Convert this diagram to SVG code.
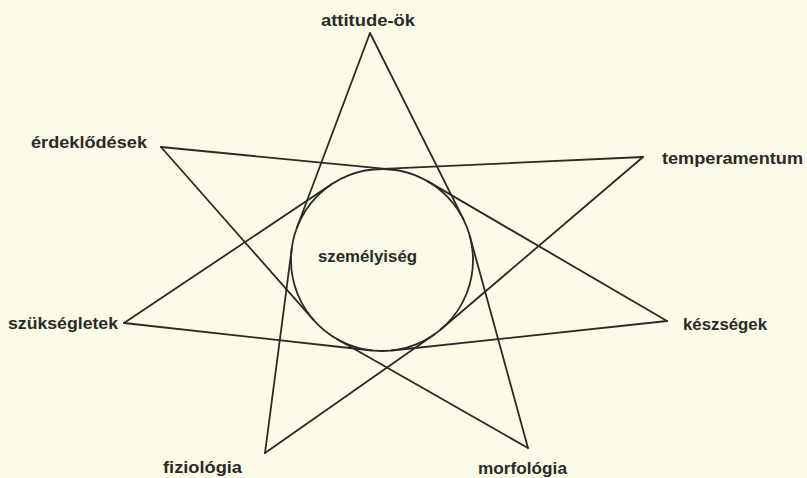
<svg xmlns="http://www.w3.org/2000/svg" width="807" height="478" viewBox="0 0 807 478">
<style>
.bg{fill:#fbfbe7}
.ln{stroke:#2a2a28;stroke-width:1.8;fill:none;stroke-linecap:round}
.lb{font-family:"Liberation Sans",Arial,sans-serif;font-weight:bold;font-size:17px;fill:#2a2a28}
</style>
<rect class="bg" x="0" y="0" width="807" height="478"/>
<g id="connectors">
<line class="ln" x1="370" y1="33" x2="296.8" y2="228.0"/>
<line class="ln" x1="370" y1="33" x2="463.4" y2="219.2"/>
<line class="ln" x1="643" y1="157" x2="377.9" y2="169.1"/>
<line class="ln" x1="643" y1="157" x2="441.0" y2="329.3"/>
<line class="ln" x1="667" y1="321" x2="427.9" y2="181.4"/>
<line class="ln" x1="667" y1="321" x2="391.7" y2="350.5"/>
<line class="ln" x1="528" y1="448" x2="469.8" y2="236.0"/>
<line class="ln" x1="528" y1="448" x2="336.9" y2="339.0"/>
<line class="ln" x1="265" y1="453" x2="434.2" y2="334.5"/>
<line class="ln" x1="265" y1="453" x2="291.8" y2="248.3"/>
<line class="ln" x1="124" y1="323" x2="372.0" y2="350.5"/>
<line class="ln" x1="124" y1="323" x2="331.5" y2="184.3"/>
<line class="ln" x1="161" y1="147" x2="313.7" y2="320.2"/>
<line class="ln" x1="161" y1="147" x2="390.9" y2="169.4"/>
</g>
<g id="szemelyiseg">
<circle class="ln" cx="382" cy="260" r="91"/>
<text class="lb" x="318" y="262" textLength="99" lengthAdjust="spacingAndGlyphs">személyiség</text>
</g>
<g id="attitude-ok"><text class="lb" x="321" y="26" textLength="94" lengthAdjust="spacingAndGlyphs">attitude-ök</text></g>
<g id="temperamentum"><text class="lb" x="662" y="164" textLength="141" lengthAdjust="spacingAndGlyphs">temperamentum</text></g>
<g id="keszsegek"><text class="lb" x="683" y="330" textLength="84" lengthAdjust="spacingAndGlyphs">készségek</text></g>
<g id="morfologia"><text class="lb" x="478" y="474" textLength="89" lengthAdjust="spacingAndGlyphs">morfológia</text></g>
<g id="fiziologia"><text class="lb" x="163" y="473" textLength="79" lengthAdjust="spacingAndGlyphs">fiziológia</text></g>
<g id="szuksegletek"><text class="lb" x="8" y="329" textLength="110" lengthAdjust="spacingAndGlyphs">szükségletek</text></g>
<g id="erdeklodesek"><text class="lb" x="31" y="148" textLength="116" lengthAdjust="spacingAndGlyphs">érdeklődések</text></g>
</svg>
